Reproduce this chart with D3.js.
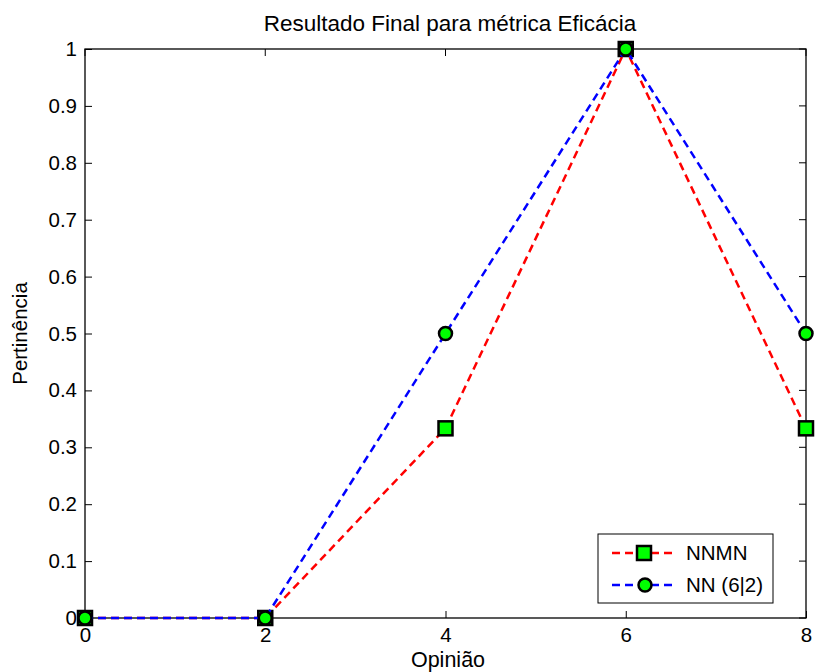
<!DOCTYPE html>
<html><head><meta charset="utf-8">
<script src="https://cdn.jsdelivr.net/npm/d3@7"></script>
<style>body{margin:0;background:#fff}svg{display:block;font-family:"Liberation Sans",Arial,sans-serif}</style>
</head><body>
<svg id="c" width="815" height="672"></svg>
<script>
const xValues = [0, 2, 4, 6, 8];
const nnmn = [0, 0, 1/3, 1, 1/3];
const nn = [0, 0, 0.5, 1, 0.5];
const xTicks = [0, 2, 4, 6, 8];
const yTicks = [0, 0.1, 0.2, 0.3, 0.4, 0.5, 0.6, 0.7, 0.8, 0.9, 1];
const seriesNames = ["NNMN", "NN (6|2)"];
const titleText = "Resultado Final para métrica Eficácia";
const xLabel = "Opinião";
const yLabel = "Pertinência";

const FS = 20.5;
const FF = "Liberation Sans, Arial, sans-serif";
const svg = d3.select("#c");
const L = 85, R = 806, T = 49, B = 618;
const x = d3.scaleLinear().domain([0, 8]).range([L, R]);
const y = d3.scaleLinear().domain([0, 1]).range([B, T]);

const tl = 7;
svg.append("g").attr("transform", `translate(0,${B})`)
  .call(d3.axisBottom(x).tickValues(xTicks).tickSize(-tl).tickPadding(9).tickFormat(d3.format("d")))
  .call(g => g.select(".domain").remove())
  .call(g => g.selectAll("text").attr("font-size", FS).attr("fill", "#000").attr("font-family", FF));
svg.append("g").selectAll("line").data(xTicks).join("line")
  .attr("x1", d => x(d)).attr("x2", d => x(d)).attr("y1", T).attr("y2", T + tl).attr("stroke", "#000");
svg.append("g").attr("transform", `translate(${L},0)`)
  .call(d3.axisLeft(y).tickValues(yTicks).tickSize(-tl).tickPadding(8).tickFormat(d => String(+d.toFixed(1))))
  .call(g => g.select(".domain").remove())
  .call(g => g.selectAll("text").attr("font-size", FS).attr("fill", "#000").attr("font-family", FF));
svg.append("g").selectAll("line").data(yTicks).join("line")
  .attr("x1", R).attr("x2", R - tl).attr("y1", d => y(d)).attr("y2", d => y(d)).attr("stroke", "#000");
svg.append("rect").attr("x", L).attr("y", T).attr("width", R - L).attr("height", B - T)
  .attr("fill", "none").attr("stroke", "#000").attr("stroke-width", 1.3);

const line = d3.line().x((d, i) => x(xValues[i])).y(d => y(d));
svg.append("path").datum(nnmn).attr("d", line).attr("fill", "none")
  .attr("stroke", "#ff0000").attr("stroke-width", 2.5).attr("stroke-dasharray", "8,5");
svg.append("g").selectAll("rect").data(nnmn).join("rect")
  .attr("x", (d, i) => x(xValues[i]) - 7).attr("y", d => y(d) - 7).attr("width", 14).attr("height", 14)
  .attr("fill", "#00ff00").attr("stroke", "#000").attr("stroke-width", 2.5);
svg.append("path").datum(nn).attr("d", line).attr("fill", "none")
  .attr("stroke", "#0000ff").attr("stroke-width", 2.5).attr("stroke-dasharray", "8,5");
svg.append("g").selectAll("circle").data(nn).join("circle")
  .attr("cx", (d, i) => x(xValues[i])).attr("cy", d => y(d)).attr("r", 6.5)
  .attr("fill", "#00ff00").attr("stroke", "#000").attr("stroke-width", 2.5);

svg.append("text").attr("x", 450).attr("y", 31).attr("text-anchor", "middle")
  .attr("font-size", 22.5).text(titleText);
svg.append("text").attr("x", 448).attr("y", 667).attr("text-anchor", "middle")
  .attr("font-size", 21.5).text(xLabel);
svg.append("text").attr("transform", `translate(27,${(T + B) / 2}) rotate(-90)`).attr("text-anchor", "middle")
  .attr("font-size", FS).text(yLabel);

const lg = svg.append("g");
lg.append("rect").attr("x", 598).attr("y", 534).attr("width", 175).attr("height", 69)
  .attr("fill", "#fff").attr("stroke", "#000").attr("stroke-width", 1);
const colors = ["#ff0000", "#0000ff"];
seriesNames.forEach((n, i) => {
  const yy = 553 + i * 32;
  lg.append("line").attr("x1", 612).attr("x2", 675).attr("y1", yy).attr("y2", yy)
    .attr("stroke", colors[i]).attr("stroke-width", 2.5).attr("stroke-dasharray", "8,5");
  if (i === 0) lg.append("rect").attr("x", 637).attr("y", yy - 7).attr("width", 14).attr("height", 14)
    .attr("fill", "#00ff00").attr("stroke", "#000").attr("stroke-width", 2.5);
  else lg.append("circle").attr("cx", 645).attr("cy", yy).attr("r", 6.5)
    .attr("fill", "#00ff00").attr("stroke", "#000").attr("stroke-width", 2.5);
  lg.append("text").attr("x", 686).attr("y", yy + 7).attr("font-size", FS).text(n);
});
</script>
</body></html>
